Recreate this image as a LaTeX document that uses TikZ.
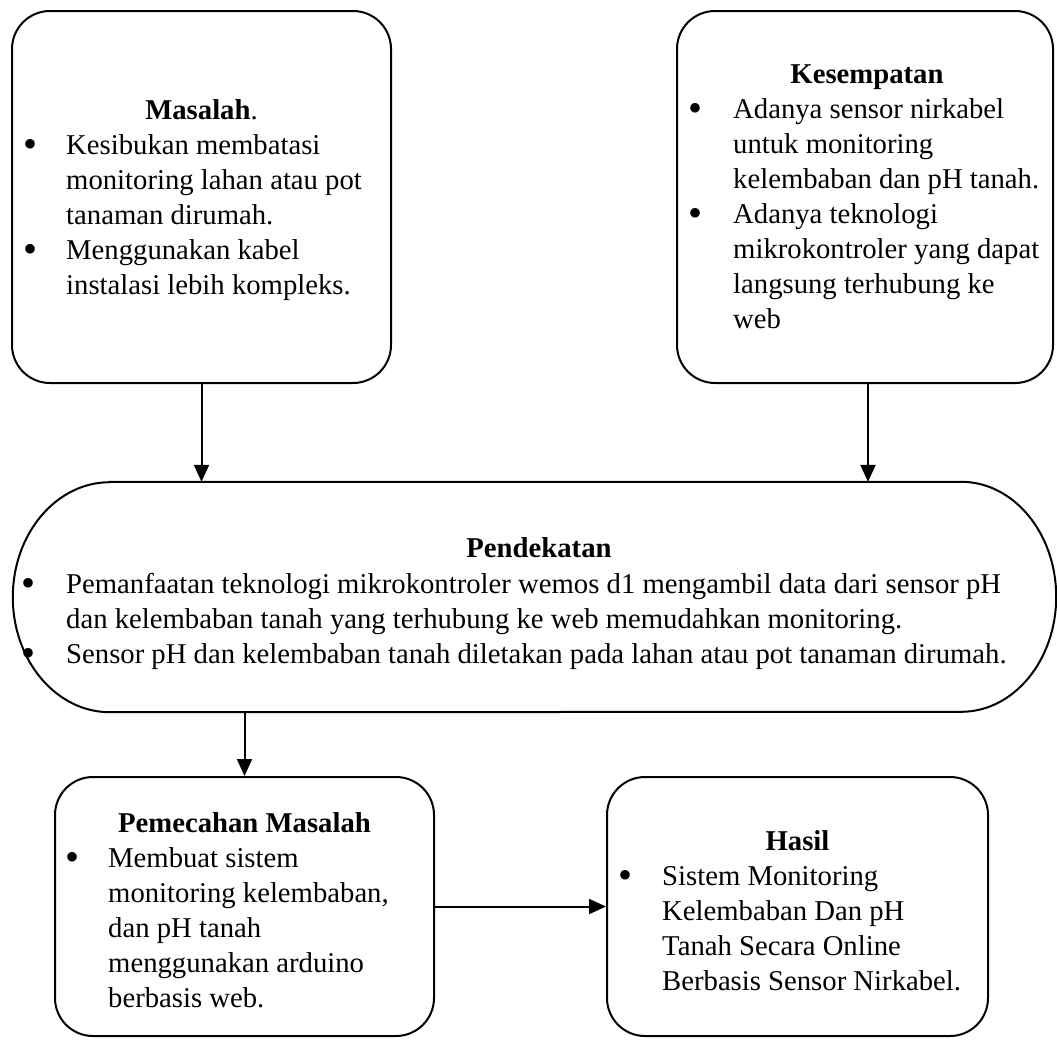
\documentclass[tikz,border=0pt]{standalone}
\usepackage{fontspec}
\setmainfont{Liberation Serif}
\usepackage{array}
\usetikzlibrary{arrows.meta}
\newcommand\bl{\makebox[0pt]{\fontsize{40}{40}\selectfont\raisebox{-3.7pt}{\textbullet}}}
\newcommand\blist[2]{\begin{tabular}[t]{@{}p{#1}@{}l@{}}#2\end{tabular}}
\begin{document}
\begin{tikzpicture}[x=1pt,y=-1pt,
  box/.style={draw,line width=2pt,rounded corners=38pt,inner sep=0pt},
  ttl/.style={anchor=base,inner sep=0pt,font=\fontsize{28.7}{35}\selectfont\bfseries},
  txt/.style={anchor=base west,inner sep=0pt,font=\fontsize{28.7}{35}\selectfont},
  arr/.style={line width=2pt,-{Triangle[length=17pt,width=15pt]}}]
\useasboundingbox (0,0) rectangle (1057,1039);

% boxes
\node[box,minimum width=379pt,minimum height=372pt] (mas) at (201.5,197) {};
\node[box,minimum width=376pt,minimum height=372pt] (kes) at (865,197) {};
\node[inner sep=0pt,minimum width=1043pt,minimum height=230pt] (pend) at (534.5,597) {};
\draw[line width=2pt] ([xshift=97pt]pend.north west) -- ([xshift=-95pt]pend.north east)
  arc[start angle=90,end angle=-90,x radius=95pt,y radius=115pt]
  -- ([xshift=97pt]pend.south west)
  arc[start angle=270,end angle=90,x radius=97pt,y radius=115pt] -- cycle;
\node[box,minimum width=379pt,minimum height=259pt] (pm) at (244.5,906.5) {};
\node[box,minimum width=381pt,minimum height=259pt] (hs) at (797.5,906.5) {};

% titles
\node[ttl] (tmas) at (201.5,119) {Masalah\mdseries.};
\node[ttl] (tkes) at (867,83) {Kesempatan};
\node[ttl] (tpend) at (539,557) {Pendekatan};
\node[ttl] (tpm) at (244.5,832) {Pemecahan Masalah};
\node[ttl] (ths) at (797.5,850) {Hasil};

% texts
\node[txt] (lmas) at (30,154) {\blist{36pt}{%
\bl & Kesibukan membatasi\\
& monitoring lahan atau pot\\
& tanaman dirumah.\\
\bl & Menggunakan kabel\\
& instalasi lebih kompleks.}};
\node[txt] (lkes) at (695,118) {\blist{38pt}{%
\bl & Adanya sensor nirkabel\\
& untuk monitoring\\
& kelembaban dan pH tanah.\\
\bl & Adanya teknologi\\
& mikrokontroler yang dapat\\
& langsung terhubung ke\\
& web}};
\node[txt] (lpend) at (28,593) {\blist{38pt}{%
\bl & Pemanfaatan teknologi mikrokontroler wemos d1 mengambil data dari sensor pH\\
& dan kelembaban tanah yang terhubung ke web memudahkan monitoring.\\
\bl & Sensor pH dan kelembaban tanah diletakan pada lahan atau pot tanaman dirumah.}};
\node[txt] (lpm) at (72,867) {\blist{36pt}{%
\bl & Membuat sistem\\
& monitoring kelembaban,\\
& dan pH tanah\\
& menggunakan arduino\\
& berbasis web.}};
\node[txt] (lhs) at (625,885) {\blist{37pt}{%
\bl & Sistem Monitoring\\
& Kelembaban Dan pH\\
& Tanah Secara Online\\
& Berbasis Sensor Nirkabel.}};

% connectors
\draw[arr] (mas.south) -- (mas.south |- pend.north);
\draw[arr] ([xshift=3pt]kes.south) -- ([xshift=3pt]kes.south |- pend.north);
\draw[arr] (pend.south -| pm.north) -- (pm.north);
\draw[arr] (pm.east) -- (hs.west);
\end{tikzpicture}
\end{document}
